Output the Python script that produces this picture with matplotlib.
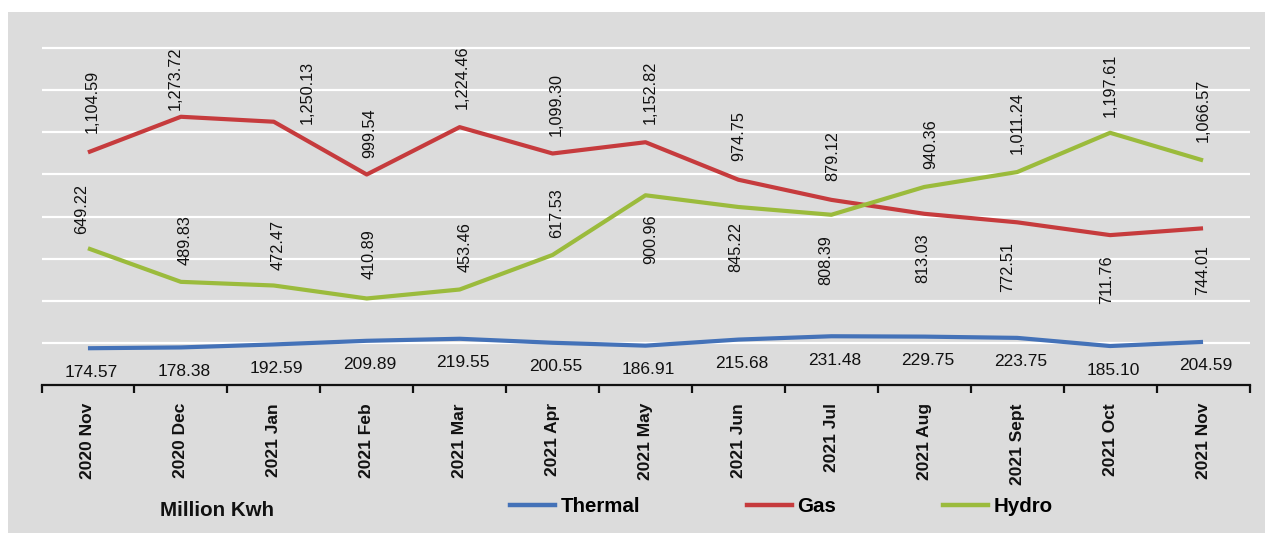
import matplotlib
matplotlib.use("Agg")
import matplotlib.pyplot as plt
from matplotlib.patches import Rectangle
from matplotlib.lines import Line2D

plt.rcParams['font.family'] = ['Liberation Sans', 'DejaVu Sans']

months = ["2020 Nov", "2020 Dec", "2021 Jan", "2021 Feb", "2021 Mar", "2021 Apr",
          "2021 May", "2021 Jun", "2021 Jul", "2021 Aug", "2021 Sept", "2021 Oct", "2021 Nov"]
thermal = [174.57, 178.38, 192.59, 209.89, 219.55, 200.55, 186.91, 215.68, 231.48,
           229.75, 223.75, 185.10, 204.59]
gas = [1104.59, 1273.72, 1250.13, 999.54, 1224.46, 1099.30, 1152.82, 974.75, 879.12,
       813.03, 772.51, 711.76, 744.01]
hydro = [649.22, 489.83, 472.47, 410.89, 453.46, 617.53, 900.96, 845.22, 808.39,
         940.36, 1011.24, 1197.61, 1066.57]

# label offsets (pixels) – layout only
gas_off = [(4, 51), (-6, 39), (33, 29), (3, 41), (3, 50), (4, 49), (5, 50), (0, 44),
           (1, 44), (-2, -44), (-10, -45), (-3, -45), (0, -42)]
hydro_off = [(-6, 39), (4, 42), (4, 41), (2, 44), (5, 42), (4, 42), (5, -44), (-3, -40),
             (-6, -45), (6, 43), (0, 49), (0, 47), (0, 50)]
thermal_off = (3, -24)

W, H = 1265, 533
fig = plt.figure(figsize=(W / 100, H / 100), dpi=100)
fig.patch.set_facecolor('white')
bg = '#dcdcdc'
fig.patches.append(Rectangle((8 / W, 0), 1 - 8 / W, 1 - 12 / H, transform=fig.transFigure,
                             facecolor=bg, edgecolor='none', zorder=-10))

ax_left, ax_right, ax_bot, ax_top = 41.5, 1249.5, 385, 27
ax = fig.add_axes([ax_left / W, 1 - ax_bot / H, (ax_right - ax_left) / W, (ax_bot - ax_top) / H])
ax.set_facecolor('none')

x = list(range(len(months)))
c_th, c_gas, c_hy = '#4472b8', '#c63b3d', '#9bbb3c'
lw = 3.0
ax.plot(x, thermal, color=c_th, lw=lw, solid_capstyle='butt', zorder=3)
ax.plot(x, gas, color=c_gas, lw=lw, solid_capstyle='butt', zorder=3)
ax.plot(x, hydro, color=c_hy, lw=lw, solid_capstyle='butt', zorder=3)

ax.set_xlim(-0.5, len(months) - 0.5)
ax.set_ylim(0, 1700)

for g in range(200, 1601, 200):
    ax.axhline(g, color='white', lw=1.6, zorder=1)

for i in x:
    ax.annotate(f"{gas[i]:,.2f}", (i, gas[i]), xytext=gas_off[i], textcoords='offset pixels',
                rotation=90, ha='center', va='center', fontsize=11.7, color='#111111', zorder=4)
    ax.annotate(f"{hydro[i]:,.2f}", (i, hydro[i]), xytext=hydro_off[i], textcoords='offset pixels',
                rotation=90, ha='center', va='center', fontsize=11.7, color='#111111', zorder=4)
    ax.annotate(f"{thermal[i]:,.2f}", (i, thermal[i]), xytext=thermal_off, textcoords='offset pixels',
                ha='center', va='center', fontsize=12.5, color='#111111', zorder=4)

for s in ['left', 'right', 'top']:
    ax.spines[s].set_visible(False)
ax.spines['bottom'].set_linewidth(1.6)
ax.spines['bottom'].set_color('#111111')
ax.set_yticks([])
ax.set_xticks(x)
ax.set_xticklabels(months, rotation=90, fontsize=12.5, fontweight='bold', color='#111111')
ax.set_xticks([i - 0.5 for i in range(len(months) + 1)], minor=True)
ax.tick_params(axis='x', which='major', length=0, pad=13)
ax.tick_params(axis='x', which='minor', length=6, width=1.6, color='#111111', direction='out')

fig.text(160 / W, 1 - 511 / H, "Million Kwh", fontsize=14.8, fontweight='bold',
         ha='left', va='center', color='#111111')

handles = [Line2D([], [], color=c_th, lw=3.2), Line2D([], [], color=c_gas, lw=3.2),
           Line2D([], [], color=c_hy, lw=3.2)]
fig.legend(handles, ["Thermal", "Gas", "Hydro"], loc='center left',
           bbox_to_anchor=(510 / W, 1 - 507 / H), ncol=3, frameon=False,
           prop={'weight': 'bold', 'size': 14.8}, handlelength=2.2, handletextpad=0.25,
           columnspacing=5.2, borderpad=0, borderaxespad=0)

fig.savefig('out.png', dpi=100, facecolor=fig.get_facecolor())
